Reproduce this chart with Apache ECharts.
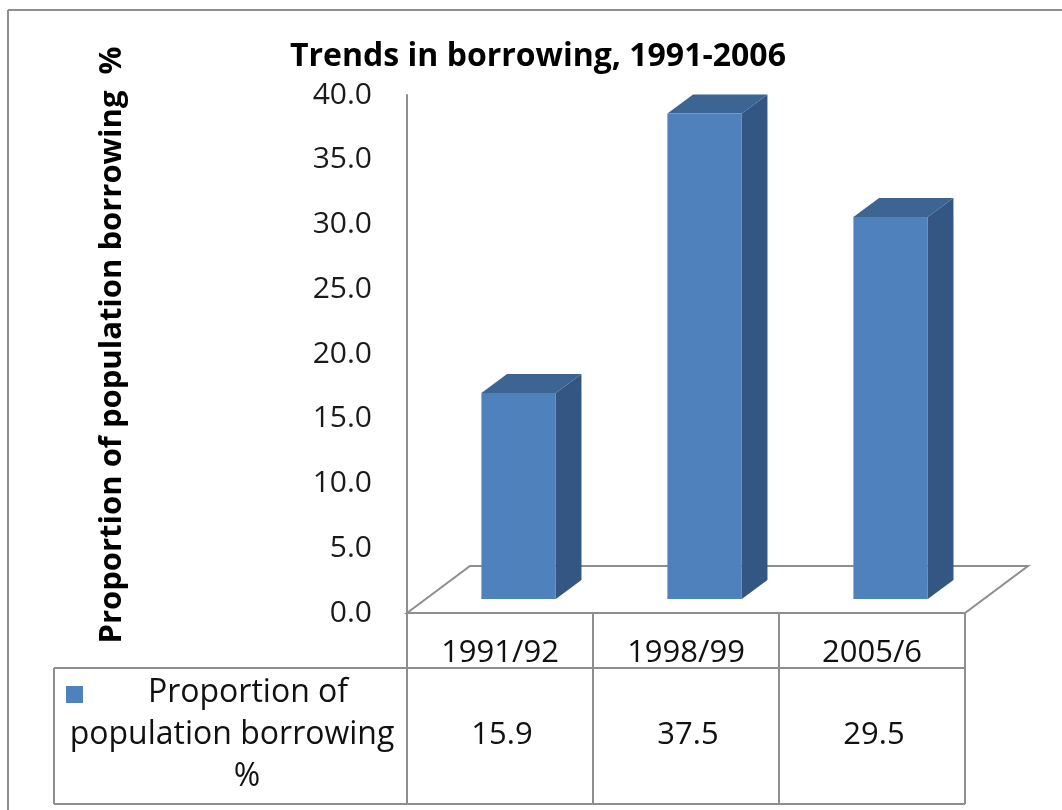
<!DOCTYPE html>
<html>
<head>
<meta charset="utf-8">
<title>Trends in borrowing, 1991-2006</title>
<script src="https://cdn.jsdelivr.net/npm/echarts@6/dist/echarts.min.js"></script>
<style>
  html, body { margin: 0; padding: 0; background: #fff; }
  #chart { width: 1062px; height: 810px; }
</style>
</head>
<body>
<div id="chart"></div>
<script>
// Survey periods and the share of the population that was borrowing (%)
const categories = ['1991/92', '1998/99', '2005/6'];
const borrowing = [15.9, 37.5, 29.5];
const seriesName = 'Proportion of population borrowing %';
const seriesLabelLines = ['Proportion of', 'population borrowing', '%'];
const axisTitle = 'Proportion of population borrowing  %';
const chartTitle = 'Trends in borrowing, 1991-2006';

const FONT = '"Open Sans", "DejaVu Sans", sans-serif';
const FRONT = '#4F81BD';
const SIDE = '#335683';
const TOP = '#3C6594';
const LINE = '#8E8E8E';

// 3D bar geometry, relative to the category band width
const BAR_W = 0.40;     // front face width
const BAR_SHIFT = 0.10; // bar sits a little into the floor depth
const DEPTH_X = 0.138;  // bar depth (x) per band
const DEPTH_Y = -19;    // bar depth (y, px)
const INSET_Y = -14;    // bar baseline raised into the floor
const FLOOR_DX = 63, FLOOR_DY = -47;

const chart = echarts.init(document.getElementById('chart'), null, { renderer: 'canvas' });

function renderBar(params, api) {
  const i = api.value(0);
  const base = api.coord([i, 0]);
  const top = api.coord([i, api.value(1)]);
  const band = api.size([1, 0])[0];
  const w = band * BAR_W;
  const x0 = base[0] - w / 2 + band * BAR_SHIFT;
  const x1 = x0 + w;
  const yb = base[1] + INSET_Y;
  const yt = top[1] + INSET_Y;
  const dx = band * DEPTH_X, dy = DEPTH_Y;
  return {
    type: 'group',
    children: [
      { type: 'polygon', shape: { points: [[x1, yb], [x1 + dx, yb + dy], [x1 + dx, yt + dy], [x1, yt]] },
        style: { fill: SIDE } },
      { type: 'polygon', shape: { points: [[x0, yt], [x0 + dx, yt + dy], [x1 + dx, yt + dy], [x1, yt]] },
        style: { fill: TOP } },
      { type: 'rect', shape: { x: x0, y: yt, width: w, height: yb - yt },
        style: { fill: FRONT } }
    ]
  };
}

// Floor of the plot plus the grid lines of the data table beneath it
function renderFrame(params, api) {
  const cs = params.coordSys;
  const left = cs.x, right = cs.x + cs.width, bottom = cs.y + cs.height;
  const band = api.size([1, 0])[0];
  const rowTop = bottom + 55;
  const rowBottom = bottom + 191;
  const tableLeft = 54;
  const lines = [
    [[tableLeft, rowTop], [right, rowTop]],
    [[tableLeft, rowBottom], [right, rowBottom]],
    [[tableLeft, rowTop], [tableLeft, rowBottom]]
  ];
  for (let k = 0; k <= categories.length; k++) {
    const x = left + band * k;
    lines.push([[x, bottom], [x, rowBottom]]);
  }
  const children = [
    { type: 'polygon',
      shape: { points: [[left, bottom], [left + FLOOR_DX, bottom + FLOOR_DY],
                        [right + FLOOR_DX, bottom + FLOOR_DY], [right, bottom]] },
      style: { fill: '#fff', stroke: LINE, lineWidth: 2 } }
  ];
  lines.forEach(function (p) {
    children.push({ type: 'line', shape: { x1: p[0][0], y1: p[0][1], x2: p[1][0], y2: p[1][1] },
      style: { stroke: LINE, lineWidth: 2 } });
  });
  // legend key and the wrapped series name in the first column
  children.push({ type: 'rect', shape: { x: 66, y: rowTop + 18, width: 17, height: 17 },
    style: { fill: FRONT } });
  const labelCx = [248, 232, 247];
  seriesLabelLines.forEach(function (t, k) {
    children.push({ type: 'text', style: { text: t, x: labelCx[k], y: rowTop + 25 + k * 42,
      align: 'center', verticalAlign: 'middle', font: '32px ' + FONT, fill: '#111' } });
  });
  return { type: 'group', children: children };
}

function renderValueCell(params, api) {
  const p = api.coord([api.value(0), 0]);
  const cs = params.coordSys;
  const bottom = cs.y + cs.height;
  return { type: 'text', style: { text: api.value(1).toFixed(1), x: p[0] + 2, y: bottom + 122,
    align: 'center', verticalAlign: 'middle', font: '31px ' + FONT, fill: '#111' } };
}

const barData = borrowing.map(function (v, i) { return [i, v]; });

chart.setOption({
  animation: false,
  backgroundColor: '#fff',
  title: {
    text: chartTitle,
    left: 533, top: 36, textAlign: 'center',
    textStyle: { fontFamily: FONT, fontWeight: 'bold', fontSize: 32, color: '#000' }
  },
  grid: { left: 407, top: 95, width: 558, height: 518, containLabel: false },
  xAxis: {
    type: 'category',
    data: categories,
    axisLine: { show: false },
    axisTick: { show: false },
    axisLabel: { margin: 25, color: '#111', fontFamily: FONT, fontSize: 31 },
    splitLine: { show: false }
  },
  yAxis: {
    type: 'value',
    min: 0, max: 40, interval: 5,
    name: axisTitle,
    nameLocation: 'middle',
    nameRotate: 90,
    nameGap: 279,
    nameTextStyle: { fontFamily: FONT, fontWeight: 'bold', fontSize: 31, color: '#000', padding: [0, 0, 0, 18] },
    axisLine: { show: true, lineStyle: { color: LINE, width: 2 } },
    axisTick: { show: false },
    splitLine: { show: false },
    axisLabel: {
      margin: 35, color: '#1a1a1a', fontFamily: FONT, fontSize: 30,
      formatter: function (v) { return v.toFixed(1); }
    }
  },
  series: [
    { type: 'custom', name: 'frame', data: [[0, 0]], renderItem: renderFrame, z: 1, silent: true },
    { type: 'custom', name: seriesName, data: barData, renderItem: renderBar, z: 3, silent: true },
    { type: 'custom', name: 'values', data: barData, renderItem: renderValueCell, z: 3, silent: true }
  ],
  graphic: [
    { type: 'line', shape: { x1: 8, y1: 10, x2: 1062, y2: 10 }, style: { stroke: LINE, lineWidth: 2 }, z: 0 },
    { type: 'line', shape: { x1: 8, y1: 10, x2: 8, y2: 810 }, style: { stroke: LINE, lineWidth: 2 }, z: 0 }
  ]
});
</script>
</body>
</html>
